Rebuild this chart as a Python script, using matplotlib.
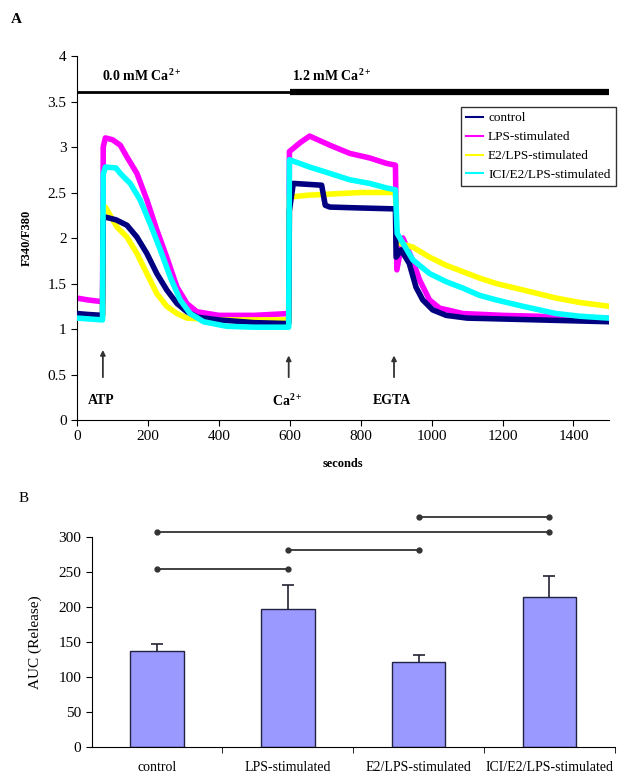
import numpy as np
import matplotlib.pyplot as plt

plt.rcParams['font.family'] = ['Liberation Serif', 'DejaVu Serif']
plt.rcParams['mathtext.fontset'] = 'custom'
plt.rcParams['mathtext.rm'] = 'Liberation Serif'
plt.rcParams['mathtext.bf'] = 'Liberation Serif:bold'

# panel A traces
t_control = [0, 30, 72, 74, 80, 110, 141, 169, 197, 225, 253, 282, 310, 340, 400, 500, 597,
             599, 610, 690, 700, 713, 800, 898, 900, 914, 937, 956, 975, 1003, 1041, 1100,
             1200, 1300, 1400, 1500]
v_control = [1.17, 1.16, 1.15, 2.2, 2.23, 2.2, 2.14, 2.01, 1.83, 1.61, 1.43, 1.28, 1.19, 1.13,
             1.1, 1.07, 1.06, 2.3, 2.6, 2.58, 2.36, 2.34, 2.33, 2.32, 1.79, 1.87, 1.72, 1.46,
             1.32, 1.21, 1.15, 1.12, 1.11, 1.1, 1.09, 1.08]

t_lps = [0, 30, 72, 74, 80, 100, 122, 141, 169, 197, 225, 253, 282, 310, 338, 400, 500, 597,
         599, 630, 656, 713, 769, 825, 873, 898, 902, 919, 947, 966, 994, 1022, 1088, 1200,
         1300, 1400, 1500]
v_lps = [1.34, 1.32, 1.3, 3.0, 3.1, 3.08, 3.02, 2.89, 2.71, 2.42, 2.09, 1.79, 1.46, 1.28, 1.19,
         1.15, 1.15, 1.17, 2.95, 3.05, 3.12, 3.02, 2.93, 2.88, 2.82, 2.8, 1.65, 2.0, 1.75, 1.54,
         1.32, 1.23, 1.17, 1.15, 1.14, 1.12, 1.12]

t_e2 = [0, 72, 74, 80, 113, 141, 169, 197, 225, 253, 282, 310, 400, 500, 597, 599, 650, 700,
        800, 898, 902, 947, 994, 1041, 1088, 1135, 1182, 1257, 1351, 1420, 1500]
v_e2 = [1.15, 1.14, 2.3, 2.34, 2.12, 2.01, 1.83, 1.61, 1.39, 1.25, 1.17, 1.12, 1.1, 1.1, 1.1,
        2.45, 2.47, 2.48, 2.5, 2.5, 1.95, 1.9, 1.79, 1.7, 1.63, 1.56, 1.5, 1.43, 1.34, 1.29, 1.25]

t_ici = [0, 72, 74, 80, 110, 122, 150, 178, 206, 235, 263, 291, 319, 357, 422, 500, 597, 599,
         656, 713, 769, 825, 873, 898, 903, 947, 994, 1041, 1088, 1135, 1182, 1257, 1351, 1420,
         1500]
v_ici = [1.12, 1.1, 2.7, 2.78, 2.77, 2.71, 2.6, 2.42, 2.16, 1.87, 1.57, 1.32, 1.17, 1.08, 1.03,
         1.02, 1.02, 2.86, 2.78, 2.71, 2.64, 2.6, 2.55, 2.53, 2.05, 1.76, 1.61, 1.52, 1.45, 1.37,
         1.32, 1.25, 1.17, 1.14, 1.12]

labels = ['control', 'LPS-stimulated', 'E2/LPS-stimulated', 'ICI/E2/LPS-stimulated']
colors = ['#000080', '#FF00FF', '#FFFF00', '#00FFFF']

# panel B
auc = [137, 198, 122, 215]
auc_err = [10, 33, 10, 30]
sig_pairs = [(0, 1), (1, 2), (0, 3), (2, 3)]
sig_level = [255, 282, 308, 329]

fig = plt.figure(figsize=(6.28, 7.81), dpi=100)

# ---- A ----
ax = fig.add_axes([0.1226, 0.4622, 0.847, 0.4661])
traces = [(t_control, v_control), (t_lps, v_lps), (t_e2, v_e2), (t_ici, v_ici)]
zs = [4, 2, 3, 5]
for (t, v), c, lab, z in zip(traces, colors, labels, zs):
    ax.plot(t, v, color=c, lw=4.0, label=lab, zorder=z)

ax.plot([0, 600], [3.6, 3.6], color='black', lw=2, solid_capstyle='butt')
ax.plot([600, 1500], [3.6, 3.6], color='black', lw=4.5, solid_capstyle='butt')
ax.text(70, 3.72, r'0.0 mM Ca$^{\mathbf{2+}}$', fontsize=10, fontweight='bold')
ax.text(607, 3.72, r'1.2 mM Ca$^{\mathbf{2+}}$', fontsize=10, fontweight='bold')

for x, top, txt in [(73, 0.8, 'ATP'), (597, 0.74, r'Ca$^{\mathbf{2+}}$'), (894, 0.74, 'EGTA')]:
    ax.annotate('', xy=(x, top), xytext=(x, 0.44),
                arrowprops=dict(arrowstyle='-|>', color='#333333', lw=1.3, mutation_scale=7))
    ax.text(x - 5, 0.21, txt, ha='center', va='center', fontsize=10, fontweight='bold')

ax.set_xlim(0, 1500)
ax.set_ylim(0, 4)
ax.set_xticks(np.arange(0, 1500, 200))
ax.set_yticks(np.arange(0, 4.01, 0.5))
ax.set_yticklabels(['0', '0.5', '1', '1.5', '2', '2.5', '3', '3.5', '4'])
ax.tick_params(labelsize=11, direction='out', length=4)
ax.spines['top'].set_visible(False)
ax.spines['right'].set_visible(False)
ax.set_ylabel('F340/F380', fontsize=9, fontweight='bold')
ax.yaxis.set_label_coords(-0.083, 0.5)
ax.set_xlabel('seconds', fontsize=9, fontweight='bold')
ax.xaxis.set_label_coords(0.5, -0.105)

leg = ax.legend(loc='upper left', bbox_to_anchor=(0.722, 0.86), borderaxespad=0,
                fancybox=False, edgecolor='black', fontsize=9.5, handlelength=1.3,
                labelspacing=0.5, handletextpad=0.35, borderpad=0.4)
leg.get_frame().set_linewidth(1.0)
for h in leg.get_lines():
    h.set_linewidth(1.5)
leg.set_zorder(10)

fig.text(0.018, 0.975, 'A', fontsize=11, fontweight='bold', va='center')

# ---- B ----
bx = fig.add_axes([0.146, 0.0439, 0.833, 0.2681])
x = np.arange(len(labels))
bx.bar(x, auc, width=0.41, color='#9999FF', edgecolor='#222244', lw=1.0, zorder=2)
tops = np.array(auc) + np.array(auc_err)
bx.vlines(x, auc, tops, color='#222233', lw=1.2, zorder=1)
bx.plot(x, tops, ls='none', marker='_', markersize=8, markeredgewidth=1.2, color='#222233')
for (a, b), lvl in zip(sig_pairs, sig_level):
    bx.plot([a, b], [lvl, lvl], color='#333333', lw=1.3, marker='o', markersize=3.5,
            clip_on=False)

bx.set_xlim(-0.5, 3.5)
bx.set_ylim(0, 300)
bx.set_yticks(np.arange(0, 301, 50))
bx.set_xticks(x)
bx.set_xticklabels(labels)
bx.set_xticks([0.5, 1.5, 2.5, 3.5], minor=True)
bx.tick_params(axis='x', which='major', length=0, labelsize=10, pad=10)
bx.tick_params(axis='x', which='minor', length=4, direction='out')
bx.tick_params(axis='y', labelsize=11, direction='out', length=4)
bx.spines['top'].set_visible(False)
bx.spines['right'].set_visible(False)
bx.set_ylabel('AUC (Release)', fontsize=11)
bx.yaxis.set_label_coords(-0.095, 0.5)

fig.text(0.03, 0.362, 'B', fontsize=11, va='center')

fig.savefig('out.png', dpi=100)
